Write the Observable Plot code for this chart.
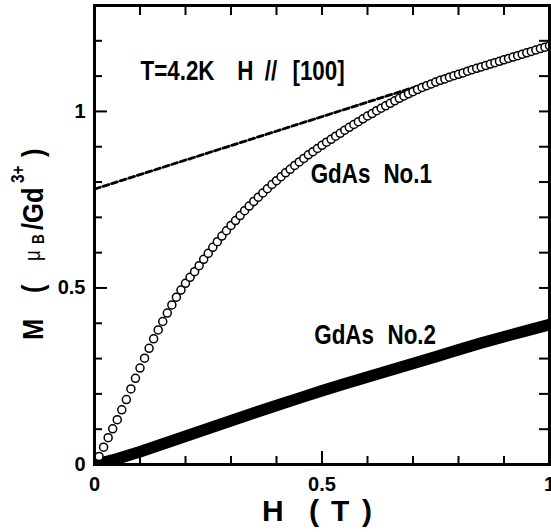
<!DOCTYPE html>
<html><head><meta charset="utf-8">
<script src="https://cdn.jsdelivr.net/npm/d3@7"></script>
<script src="https://cdn.jsdelivr.net/npm/@observablehq/plot@0.6"></script>
<style>body{margin:0;background:#fff} svg{display:block}</style>
</head><body><div id="chart"></div>
<script>
// GdAs No.1 (open circles): field H (T) and magnetization M (muB/Gd3+)
const fieldNo1 = [0.01,0.02,0.03,0.04,0.05,0.06,0.07,0.08,0.09,0.10,
  0.11,0.12,0.13,0.14,0.15,0.16,0.17,0.18,0.19,0.20,
  0.21,0.22,0.23,0.24,0.25,0.26,0.27,0.28,0.29,0.30,
  0.31,0.32,0.33,0.34,0.35,0.36,0.37,0.38,0.39,0.40,
  0.41,0.42,0.43,0.44,0.45,0.46,0.47,0.48,0.49,0.50,
  0.51,0.52,0.53,0.54,0.55,0.56,0.57,0.58,0.59,0.60,
  0.61,0.62,0.63,0.64,0.65,0.66,0.67,0.68,0.69,0.70,
  0.71,0.72,0.73,0.74,0.75,0.76,0.77,0.78,0.79,0.80,
  0.81,0.82,0.83,0.84,0.85,0.86,0.87,0.88,0.89,0.90,
  0.91,0.92,0.93,0.94,0.95,0.96,0.97,0.98,0.99,1.00];
const magNo1 = [0.023,0.049,0.076,0.101,0.127,0.155,0.184,0.214,0.244,0.273,
  0.301,0.329,0.356,0.381,0.405,0.429,0.452,0.474,0.494,0.513,
  0.530,0.546,0.563,0.581,0.598,0.615,0.631,0.647,0.662,0.677,
  0.691,0.705,0.719,0.732,0.745,0.757,0.769,0.781,0.793,0.804,
  0.815,0.826,0.836,0.847,0.857,0.867,0.877,0.886,0.895,0.904,
  0.913,0.921,0.930,0.938,0.947,0.955,0.963,0.971,0.979,0.987,
  0.994,1.002,1.009,1.016,1.023,1.030,1.037,1.044,1.050,1.056,
  1.062,1.068,1.073,1.078,1.083,1.088,1.092,1.097,1.101,1.105,
  1.109,1.114,1.118,1.122,1.126,1.130,1.134,1.138,1.142,1.146,
  1.150,1.154,1.158,1.162,1.166,1.170,1.174,1.178,1.182,1.186];

// GdAs No.2 (thick filled band)
const fieldNo2 = [0,0.05,0.10,0.15,0.20,0.25,0.30,0.35,0.40,0.45,0.50,
  0.55,0.60,0.65,0.70,0.75,0.80,0.85,0.90,0.95,1.00];
const magNo2 = [0.000,0.016,0.036,0.058,0.080,0.102,0.124,0.146,0.167,0.188,0.209,
  0.229,0.248,0.267,0.286,0.305,0.325,0.344,0.362,0.379,0.396];

// high-field linear extrapolation (dashed)
const fieldFit = [0, 0.755];
const magFit = [0.78, 1.090];

// tick values
const xMajor = [0, 0.5, 1];
const xMinor = [0.1,0.2,0.3,0.4,0.6,0.7,0.8,0.9];
const xAll = [0,0.1,0.2,0.3,0.4,0.5,0.6,0.7,0.8,0.9,1];
const yMajor = [0, 0.5, 1];
const yMinor = [0.1,0.2,0.3,0.4,0.6,0.7,0.8,0.9,1.1,1.2];
const yAll = [0,0.1,0.2,0.3,0.4,0.5,0.6,0.7,0.8,0.9,1,1.1,1.2];

// annotation texts and their anchors (data units)
const noteText = ["T=4.2K", "H", "//", "[100]", "GdAs", "No.1", "GdAs", "No.2"];
const noteH = [0.101, 0.314, 0.374, 0.435, 0.475, 0.635, 0.483, 0.644];
const noteM = [1.113, 1.113, 1.113, 1.113, 0.822, 0.822, 0.367, 0.367];

const no1 = fieldNo1.map((h, i) => ({H: h, M: magNo1[i]}));
const no2 = fieldNo2.map((h, i) => ({H: h, M: magNo2[i]}));
const fit = fieldFit.map((h, i) => ({H: h, M: magFit[i]}));
const notes = noteText.map((t, i) => ({t, H: noteH[i], M: noteM[i]}));

const condense = 0.8;
const fmt = d => String(d);
const blank = () => "";

const chart = Plot.plot({
  width: 551, height: 532,
  marginLeft: 94, marginTop: 5, marginRight: 2, marginBottom: 68,
  style: {fontFamily: "'Liberation Sans', Arial, sans-serif", background: "white", color: "black"},
  x: {domain: [0, 1], label: null},
  y: {domain: [0, 1.3], label: null},
  marks: [
    Plot.line(no2, {x: "H", y: "M", stroke: "black", strokeWidth: 11.5, clip: true}),
    Plot.line(fit, {x: "H", y: "M", stroke: "black", strokeWidth: 2.8, strokeDasharray: "6,3"}),
    Plot.dot(no1, {x: "H", y: "M", r: 4, stroke: "black", fill: "white", strokeWidth: 1.5, clip: true}),
    Plot.text(notes, {x: "H", y: "M", text: "t", textAnchor: "start", fontSize: 28, fontWeight: "bold", className: "note"}),
    // inward ticks
    Plot.axisX({anchor: "bottom", ticks: xMajor, tickSize: 13, dy: -13, tickFormat: blank, label: null, strokeWidth: 2}),
    Plot.axisX({anchor: "bottom", ticks: xMinor, tickSize: 8, dy: -8, tickFormat: blank, label: null, strokeWidth: 2}),
    Plot.axisX({anchor: "top", ticks: xAll, tickSize: 9, dy: 9, tickFormat: blank, label: null, strokeWidth: 2}),
    Plot.axisY({anchor: "left", ticks: yMajor, tickSize: 13, dx: 13, tickFormat: blank, label: null, strokeWidth: 2}),
    Plot.axisY({anchor: "left", ticks: yMinor, tickSize: 8, dx: 8, tickFormat: blank, label: null, strokeWidth: 2}),
    Plot.axisY({anchor: "right", ticks: yAll, tickSize: 11, dx: -11, tickFormat: blank, label: null, strokeWidth: 2}),
    // tick labels
    Plot.axisX({anchor: "bottom", ticks: xMajor, tickSize: 0, tickPadding: 12, tickFormat: fmt, label: null, fontSize: 20, fontWeight: "bold"}),
    Plot.axisY({anchor: "left", ticks: yMajor, tickSize: 0, tickPadding: 9, tickFormat: fmt, label: null, fontSize: 20, fontWeight: "bold"}),
    Plot.frame({stroke: "black", strokeWidth: 3})
  ]
});
document.getElementById("chart").appendChild(chart);

const svg = d3.select(chart);
// condense annotation glyphs horizontally around their start anchor
svg.selectAll(".note text").each(function () {
  const t = this.getAttribute("transform") || "";
  this.setAttribute("transform", t + ` scale(${condense},1)`);
});

// x axis title
const xt = svg.append("text").attr("text-anchor", "start").attr("font-size", 30)
  .attr("font-weight", "bold").attr("y", 521).attr("fill", "black");
[["H", 262], ["(", 309], ["T", 331], [")", 362]].forEach(([s, x]) => xt.append("tspan").attr("x", x).text(s));

// y axis title: rotated pieces [text, start (px up from y=340), baseline shift (px, negative = raised), size, weight]
const k = 0.85;
const yPieces = [
  ["M", 0, 0, 30, "bold"],
  ["(", 47, 0, 30, "bold"],
  ["μ", 79, -3, 22, "normal"],
  ["B", 96, 1, 16, "bold"],
  ["/Gd", 110, 0, 30, "bold"],
  ["3+", 157, -19, 18, "bold"],
  [")", 183, 0, 30, "bold"]
];
yPieces.forEach(([s, pos, shift, size, weight]) => {
  svg.append("text")
    .attr("text-anchor", "start")
    .attr("transform", `translate(${43 + shift},${340 - pos}) rotate(-90) scale(${k},1)`)
    .attr("font-size", size).attr("font-weight", weight).attr("fill", "black")
    .text(s);
});
</script>
</body></html>
